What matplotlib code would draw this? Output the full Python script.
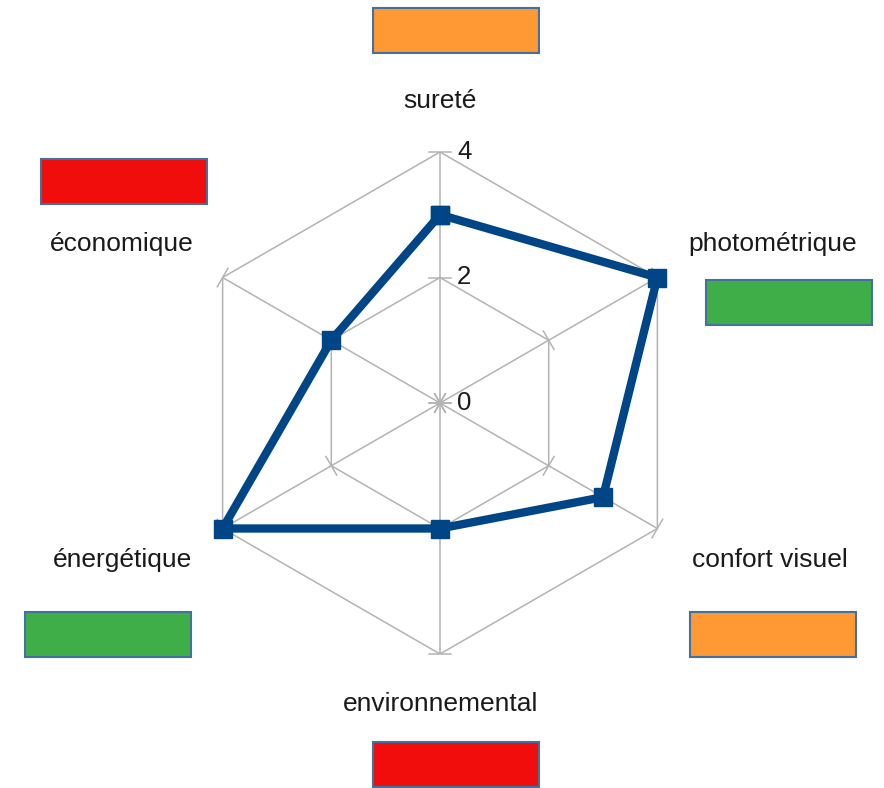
import numpy as np
import matplotlib
matplotlib.use("Agg")
import matplotlib.pyplot as plt
from matplotlib.patches import Rectangle

plt.rcParams['font.family'] = ['Liberation Sans', 'DejaVu Sans']

# Criteria, scores and rating colours
categories = ["sureté", "photométrique", "confort visuel",
              "environnemental", "énergétique", "économique"]
scores = [3, 4, 3, 2, 4, 2]
rating_colors = ["#ff9933", "#3fae49", "#ff9933", "#f10d0c", "#3fae49", "#f10d0c"]
ticks = [0, 2, 4]
r_max = 4

W, H = 884, 788
fig = plt.figure(figsize=(W / 100, H / 100), dpi=100)

# polar axes centred on the web
cx, cy, rad = 440, 403, 251
ax = fig.add_axes([(cx - rad) / W, (H - cy - rad) / H, 2 * rad / W, 2 * rad / H],
                  projection="polar")
ax.set_theta_offset(np.pi / 2)
ax.set_theta_direction(-1)
ax.set_ylim(0, r_max)
ax.axis("off")

n = len(categories)
theta = np.arange(n) * 2 * np.pi / n
grid_col = "#b3b3b3"

# hexagonal grid rings
for t in ticks[1:]:
    ax.plot(np.append(theta, theta[0]), [t] * (n + 1), color=grid_col, lw=1.1, zorder=1)
# spokes
for th in theta:
    ax.plot([th, th], [0, r_max], color=grid_col, lw=1.1, zorder=1)

# small tick marks across each spoke
tick_half = 0.17
for th in theta:
    d = np.array([np.sin(th), np.cos(th)])
    perp = np.array([d[1], -d[0]])
    for t in ticks:
        p = d * t
        a = p + perp * tick_half
        b = p - perp * tick_half
        ra, rb = np.hypot(*a), np.hypot(*b)
        ta, tb = np.arctan2(a[0], a[1]), np.arctan2(b[0], b[1])
        ax.plot([ta, tb], [ra, rb], color=grid_col, lw=1.1, zorder=1, clip_on=False)

# tick labels along the top spoke
for t in ticks:
    y_px = cy - t / r_max * rad
    fig.text(457 / W, 1 - y_px / H, str(t), fontsize=18.5, color="#1a1a1a",
             ha="left", va="center")

# data series
ax.plot(np.append(theta, theta[0]), scores + scores[:1], color="#004586", lw=6,
        marker="s", markersize=13.5, zorder=3, clip_on=False, solid_joinstyle="miter")

# category labels and rating boxes (pixel positions of their centres)
label_pos = [(440, 101), (773, 244), (770, 560), (441, 704), (122, 560), (122, 244)]
box_pos = [(456, 30), (789, 302), (773, 634), (456, 764), (108, 634), (124, 181)]
box_w, box_h = 166, 45
for name, (lx, ly), (bx, by), col in zip(categories, label_pos, box_pos, rating_colors):
    fig.text(lx / W, 1 - ly / H, name, fontsize=19, color="#1a1a1a",
             ha="center", va="center")
    fig.add_artist(Rectangle(((bx - box_w / 2) / W, 1 - (by + box_h / 2) / H),
                             box_w / W, box_h / H, transform=fig.transFigure,
                             facecolor=col, edgecolor="#41719c", lw=1.5))

fig.savefig("out.png", dpi=100)
